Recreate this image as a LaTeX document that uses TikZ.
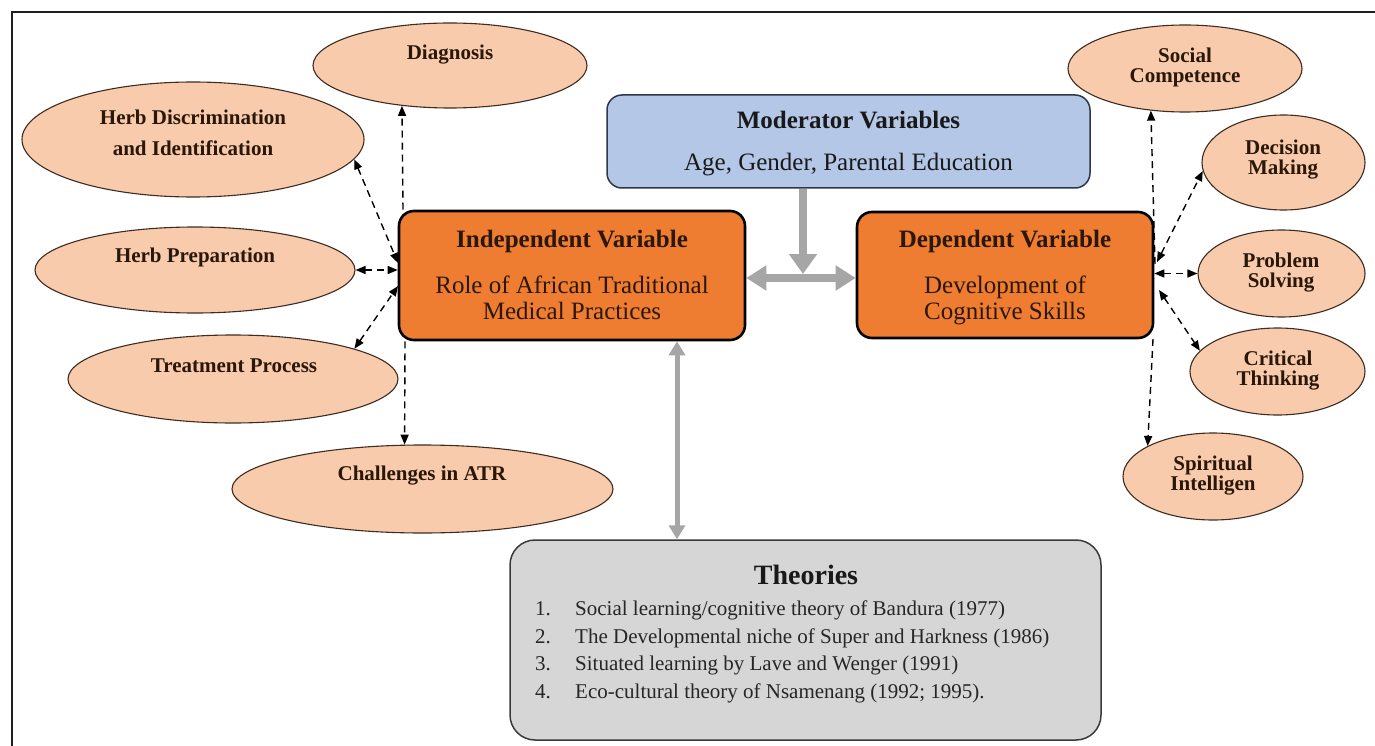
\documentclass[tikz,border=0pt]{standalone}
\usepackage{fontspec}
\setmainfont{Liberation Serif}
\usetikzlibrary{arrows.meta,shapes.geometric}
\definecolor{peach}{HTML}{F8CBAD}
\definecolor{ellline}{HTML}{3E2C20}
\definecolor{orng}{HTML}{EF7D31}
\definecolor{bluebox}{HTML}{B4C7E7}
\definecolor{blueline}{HTML}{2C3849}
\definecolor{theofill}{HTML}{D6D6D6}
\definecolor{theoline}{HTML}{3A3A3A}
\definecolor{arrgray}{HTML}{A6A6A6}
\definecolor{brn}{HTML}{2A1708}
\definecolor{framecol}{HTML}{1E1E1E}
\begin{document}
\begin{tikzpicture}[x=1pt,y=-1pt,
  ell/.style={ellipse, draw=ellline, line width=1.1pt, fill=peach, inner sep=0pt},
  etext/.style={font=\fontsize{21}{20}\selectfont\bfseries, text=brn, align=center, inner sep=0pt},
  obox/.style={rectangle, rounded corners=15pt, draw=black, line width=2.6pt, fill=orng, inner sep=0pt, align=center, text=brn, font=\fontsize{25}{26}\selectfont},
  mbox/.style={rectangle, rounded corners=15pt, draw=blueline, line width=1.5pt, fill=bluebox, inner sep=0pt, align=center, text=black!90, font=\fontsize{25}{26}\selectfont},
  tbox/.style={rectangle, rounded corners=25pt, draw=theoline, line width=1.5pt, fill=theofill, inner sep=0pt},
  titem/.style={font=\fontsize{21}{24}\selectfont, text=black!85, inner sep=0pt, anchor=base west},
  ttitle/.style={font=\fontsize{28}{30}\selectfont\bfseries, text=black!90, inner sep=0pt, anchor=base},
  dashar/.style={dash pattern=on 7pt off 5pt, line width=1.4pt, draw=black, {Triangle[length=10pt,width=8pt]}-{Triangle[length=10pt,width=8pt]}},
  dashone/.style={dash pattern=on 7pt off 5pt, line width=1.4pt, draw=black, -{Triangle[length=10pt,width=8pt]}},
  grayar/.style={draw=arrgray, line width=8pt},
  grayth/.style={draw=arrgray, line width=5pt}
]
\useasboundingbox (0,0) rectangle (1375,746);
\fill[white] (0,0) rectangle (1375,746);
\draw[line width=1.8pt, draw=framecol] (12,12) rectangle (1400,770);

% left ellipses
\node[ell, minimum width=274pt, minimum height=85pt] (diag) at (450,65.5) {};
\node[etext, anchor=base] (diagT) at (450,60) {Diagnosis};
\node[ell, minimum width=342pt, minimum height=115pt] (herbd) at (193,139.5) {};
\node[etext, font=\fontsize{21}{31}\selectfont\bfseries] (herbdT) at (193,133) {Herb Discrimination\\and Identification};
\node[ell, minimum width=320pt, minimum height=86pt] (herbp) at (195,270) {};
\node[etext, anchor=base] (herbpT) at (195,262) {Herb Preparation};
\node[ell, minimum width=330pt, minimum height=88pt] (treat) at (233,379) {};
\node[etext, anchor=base] (treatT) at (234,372) {Treatment Process};
\node[ell, minimum width=381pt, minimum height=88pt] (chal) at (422.5,489) {};
\node[etext, anchor=base] (chalT) at (422,480) {Challenges in ATR};

% right ellipses
\node[ell, minimum width=234pt, minimum height=87pt] (soc) at (1185,68.5) {};
\node[etext] (socT) at (1185,67) {Social\\Competence};
\node[ell, minimum width=163pt, minimum height=95pt] (dec) at (1283.5,162.5) {};
\node[etext] (decT) at (1283,160) {Decision\\Making};
\node[ell, minimum width=167pt, minimum height=87pt] (prob) at (1281.5,273.5) {};
\node[etext] (probT) at (1281,273) {Problem\\Solving};
\node[ell, minimum width=175pt, minimum height=87pt] (crit) at (1277.5,371.5) {};
\node[etext] (critT) at (1278,371) {Critical\\Thinking};
\node[ell, minimum width=180pt, minimum height=87pt] (spir) at (1213,476.5) {};
\node[etext] (spirT) at (1213,476) {Spiritual\\Intelligen};

% boxes
\node[mbox, minimum width=483pt, minimum height=93pt] (mod) at (848.5,141.5)
  {\rule{0pt}{20.5pt}{\bfseries Moderator Variables}\\[16pt]Age, Gender, Parental Education};
\node[obox, minimum width=346pt, minimum height=129pt] (ind) at (572,275.5)
  {\rule{0pt}{24pt}{\bfseries Independent Variable}\\[20pt]Role of African Traditional\\Medical Practices\strut};
\node[obox, minimum width=296pt, minimum height=126pt] (dep) at (1005,275)
  {\rule{0pt}{24pt}{\bfseries Dependent Variable}\\[20pt]Development of\\Cognitive Skills\strut};
\node[tbox, minimum width=591pt, minimum height=200pt] (theo) at (805.5,640) {};
\node[ttitle] (theoT) at (806,584) {Theories};
\node[titem] (n1) at (535,615) {1.};
\node[titem] (t1) at (575,615) {Social learning/cognitive theory of Bandura (1977)};
\node[titem] (n2) at (535,643) {2.};
\node[titem] (t2) at (575,643) {The Developmental niche of Super and Harkness (1986)};
\node[titem] (n3) at (535,670) {3.};
\node[titem] (t3) at (575,670) {Situated learning by Lave and Wenger (1991)};
\node[titem] (n4) at (535,698) {4.};
\node[titem] (t4) at (575,698) {Eco-cultural theory of Nsamenang (1992; 1995).};

% helper coordinates
\coordinate (lx) at (403,0);
\coordinate (lx2) at (405,0);
\coordinate (lh1) at (398,263);
\coordinate (lh3) at (398,286);
\coordinate (rh0) at (1155,264);
\coordinate (rh1) at (1157,262);
\coordinate (rh3) at (1159,290);
\coordinate (rb) at (1153,339);
\coordinate (mid) at (803,278);
\coordinate (midtop) at (803,274);
\coordinate (vx) at (677,0);

% left connectors
\draw[dashone] (ind.north -| lx) -- (diag.220);
\draw[dashar] (herbd.-7) -- (lh1);
\draw[dashar] (herbp.east) -- (herbp.east -| ind.west);
\draw[dashar] (treat.14) -- (lh3);
\draw[dashone] (ind.south -| lx2) -- (chal.112);

% right connectors
\draw[dashone] (rh0) -- (soc.231);
\draw[dashar] (rh1) -- (dec.186);
\draw[dashar] (dep.east |- prob.west) -- (prob.west);
\draw[dashar] (rh3) -- (crit.165);
\draw[dashone] (rb) -- (spir.155);

% gray arrows
\draw[grayar, -{Triangle[width=27pt,length=20pt]}] (mod.south -| mid) -- (midtop);
\draw[grayar, {Triangle[width=24pt,length=20pt]}-{Triangle[width=24pt,length=20pt]}] (ind.east |- mid) -- (dep.west |- mid);
\draw[grayth, {Triangle[width=16pt,length=14pt]}-{Triangle[width=16pt,length=14pt]}] (ind.south -| vx) -- (theo.north -| vx);
\end{tikzpicture}
\end{document}
